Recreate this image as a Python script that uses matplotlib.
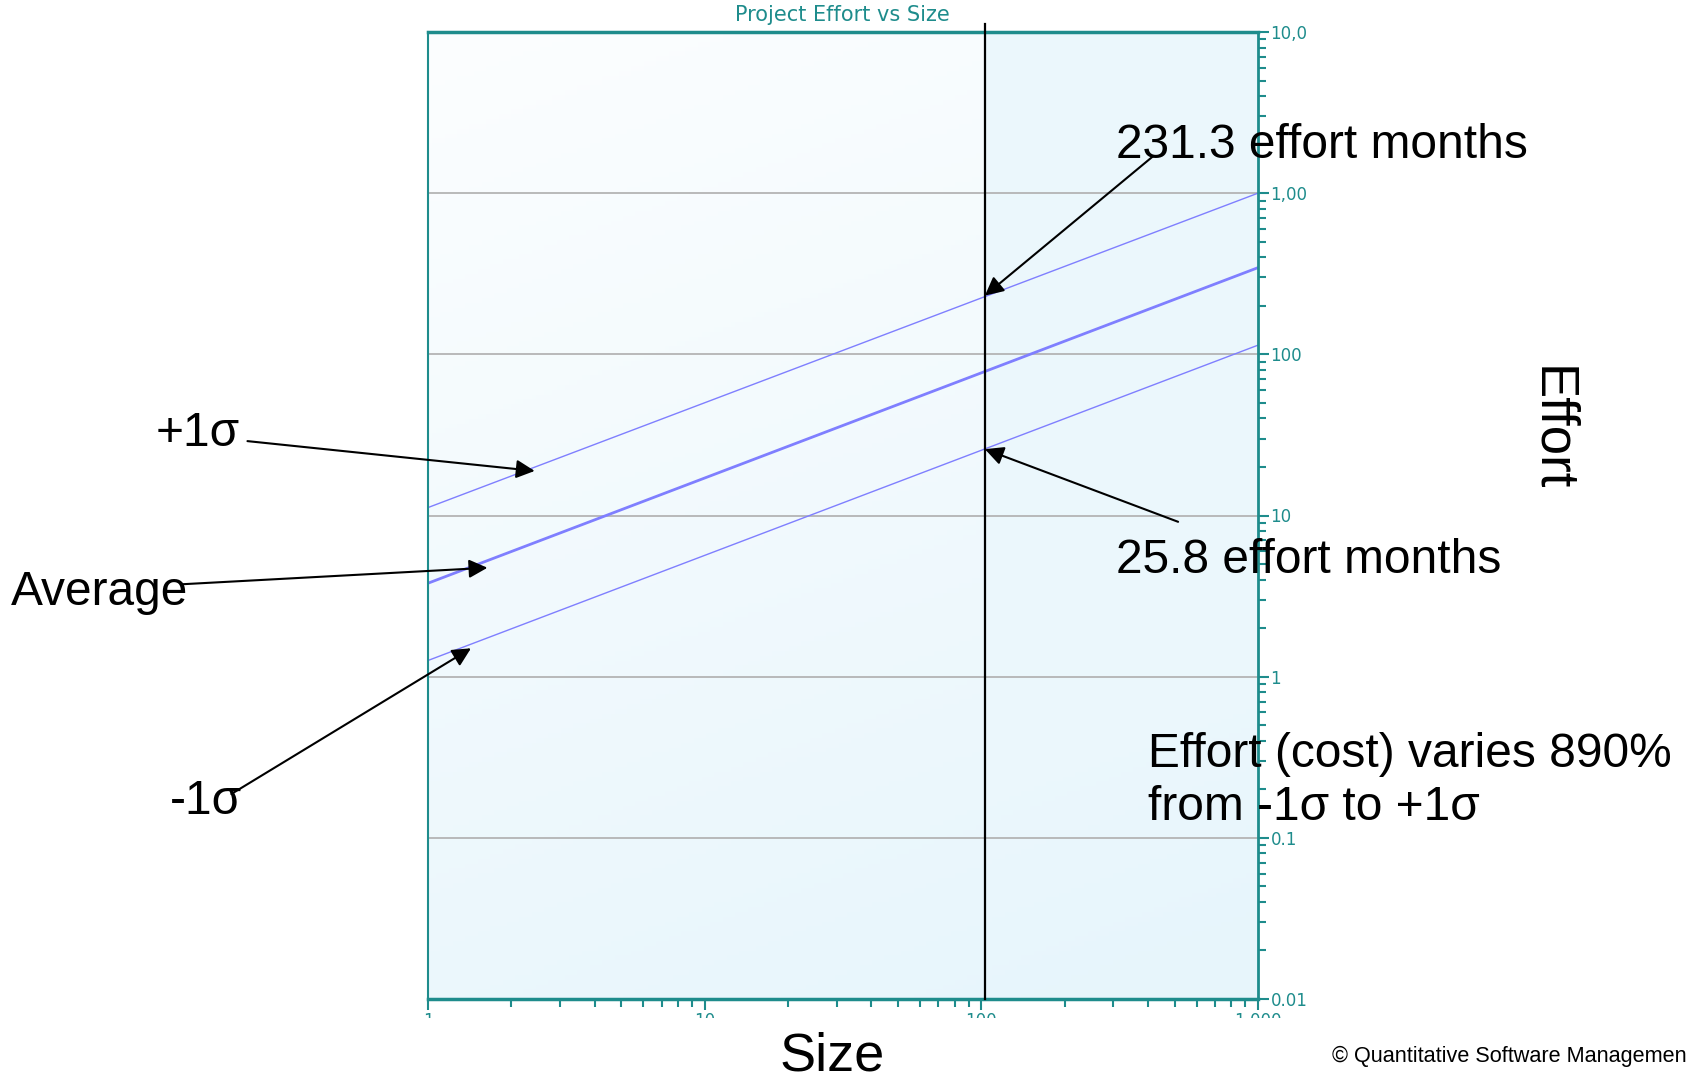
import matplotlib.pyplot as plt
import matplotlib.ticker as mticker
from matplotlib.transforms import Bbox
import numpy as np

plt.rcParams['font.family'] = ['Liberation Sans', 'DejaVu Sans']

# data
size_range = [1, 1000]
effort_avg = [3.8, 345]
effort_plus1 = [11.2, 1000]
effort_minus1 = [1.26, 114]
size_marker = 103
effort_high = 231.3
effort_low = 25.8
x_ticks = [1, 10, 100, 1000]
x_tick_labels = ['1', '10', '100', '1,000']
y_ticks = [0.01, 0.1, 1, 10, 100, 1000, 10000]
y_tick_labels = ['0.01', '0.1', '1', '10', '100', '1,000', '10,000']

TEAL = '#1E8C8C'
LINE = '#7F7FFF'
W, H = 1687, 1081

fig = plt.figure(figsize=(W / 100, H / 100), dpi=100)
ax = fig.add_axes([428 / W, 1 - 999 / H, 830 / W, 967 / H])
ax.set_xscale('log')
ax.set_yscale('log')
ax.set_xlim(size_range)
ax.set_ylim(y_ticks[0], y_ticks[-1])

# background gradient (whitish top-left to light blue bottom/right)
n = 200
xf = np.linspace(0, 1, n)[None, :]
yf = np.linspace(0, 1, n)[:, None]
t = np.clip(0.8 * (1 - yf) + 0.25 * xf, 0, 1)
split = np.log10(size_marker) / 3
t = np.where(xf > split, np.maximum(t, 0.8), t)
c0 = np.array([0.988, 0.995, 0.999])
c1 = np.array([0.906, 0.963, 0.988])
img = c0[None, None, :] * (1 - t[..., None]) + c1[None, None, :] * t[..., None]
ax.imshow(img, extent=[0, 1, 0, 1], transform=ax.transAxes, origin='lower',
          aspect='auto', zorder=0)

# horizontal grid
for yv in y_ticks:
    ax.axhline(yv, color='#B4B4B4', lw=1.3, zorder=1)

ax.plot(size_range, effort_plus1, color=LINE, lw=1.0, zorder=2)
ax.plot(size_range, effort_avg, color=LINE, lw=2.0, zorder=2)
ax.plot(size_range, effort_minus1, color=LINE, lw=1.0, zorder=2)
ax.axvline(size_marker, ymin=0, ymax=1.008, color='black', lw=1.6, zorder=3,
           clip_on=False)

# axes styling
for side in ['top', 'bottom', 'left', 'right']:
    ax.spines[side].set_color(TEAL)
ax.spines['top'].set_linewidth(2.5)
ax.spines['bottom'].set_linewidth(2.5)
ax.spines['left'].set_linewidth(1.5)
ax.spines['right'].set_linewidth(2.0)

ax.yaxis.tick_right()
ax.set_yticks(y_ticks)
ax.set_yticklabels(y_tick_labels)
ax.yaxis.set_minor_locator(mticker.LogLocator(base=10, subs=np.arange(2, 10)))
ax.yaxis.set_minor_formatter(mticker.NullFormatter())
ax.set_xticks(x_ticks)
ax.set_xticklabels(x_tick_labels)
ax.xaxis.set_minor_locator(mticker.LogLocator(base=10, subs=np.arange(2, 10)))
ax.xaxis.set_minor_formatter(mticker.NullFormatter())
ax.tick_params(axis='both', which='both', color=TEAL, labelcolor=TEAL,
               direction='out', width=1.5)
ax.tick_params(axis='both', which='major', length=8, labelsize=12, pad=1)
ax.tick_params(axis='both', which='minor', length=6)
for lab in ax.get_xticklabels() + ax.get_yticklabels():
    lab.set_family('DejaVu Sans')

# tick labels are cut off at the right and bottom in the original
fig.canvas.draw()
clip_y = Bbox.from_extents(0, 0, 1306, H)
clip_x = Bbox.from_extents(0, H - 1018, W, H)
for lab in ax.get_yticklabels():
    lab.set_clip_box(clip_y)
    lab.set_clip_on(True)
for lab in ax.get_xticklabels():
    lab.set_clip_box(clip_x)
    lab.set_clip_on(True)

fig.text(842 / W, 1 - 15 / H, 'Project Effort vs Size', color=TEAL,
         fontsize=15, family='DejaVu Sans', ha='center', va='center')

SC = 1687 / 1568


def fp(x, y):
    return (x * SC / W, 1 - y * SC / H)


big = 34.5
fig.text(*fp(1037, 135), '231.3 effort months', fontsize=big, va='center')
fig.text(*fp(1037, 521), '25.8 effort months', fontsize=big, va='center')
fig.text(*fp(145, 403), '+1σ', fontsize=big, va='center')
fig.text(*fp(10, 551), 'Average', fontsize=big, va='center')
fig.text(*fp(158, 745), '-1σ', fontsize=big, va='center')
fig.text(*fp(1067, 726), 'Effort (cost) varies 890%\nfrom -1σ to +1σ',
         fontsize=big, va='center', linespacing=1.25)
fig.text(*fp(1442, 398), 'Effort', fontsize=38, va='center', ha='center',
         rotation=-90)
fig.text(*fp(773, 982), 'Size', fontsize=39, va='center', ha='center')
fig.text(*fp(1238, 982), '© Quantitative Software Management', fontsize=15.6,
         va='center')

arrow = dict(arrowstyle='-|>', color='black', lw=1.5, mutation_scale=28,
             shrinkA=0, shrinkB=0)
targets = [
    ((size_marker, effort_high), fp(1072, 145)),
    ((size_marker, effort_low), fp(1095, 485)),
    ((2.43, 18.9), fp(230, 410)),
    ((1.64, 4.74), fp(170, 543)),
    ((1.43, 1.5), fp(215, 738)),
]
for xy, xyt in targets:
    ax.annotate('', xy=xy, xycoords='data', xytext=xyt,
                textcoords='figure fraction', arrowprops=arrow,
                annotation_clip=False, zorder=5)

fig.savefig('out.png', dpi=100)
